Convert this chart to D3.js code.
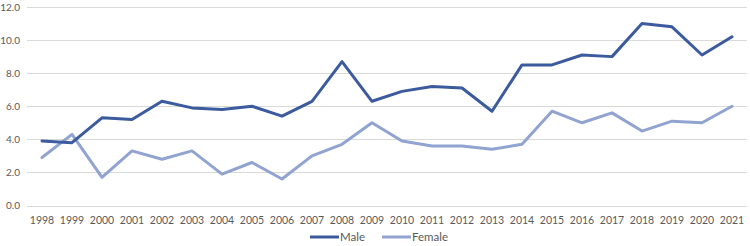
<!DOCTYPE html>
<html>
<head>
<meta charset="utf-8">
<script src="https://cdn.jsdelivr.net/npm/d3@7"></script>
<style>
  body { margin: 0; background: #fff; }
  svg text { font-family: Lato, "Noto Sans", sans-serif; fill: #595959; }
</style>
</head>
<body>
<svg id="chart" width="750" height="246"></svg>
<script>
const years = ["1998","1999","2000","2001","2002","2003","2004","2005","2006","2007","2008","2009",
               "2010","2011","2012","2013","2014","2015","2016","2017","2018","2019","2020","2021"];
const male = [3.9, 3.8, 5.3, 5.2, 6.3, 5.9, 5.8, 6.0, 5.4, 6.3, 8.7, 6.3,
              6.9, 7.2, 7.1, 5.7, 8.5, 8.5, 9.1, 9.0, 11.0, 10.8, 9.1, 10.2];
const female = [2.9, 4.3, 1.7, 3.3, 2.8, 3.3, 1.9, 2.6, 1.6, 3.0, 3.7, 5.0,
                3.9, 3.6, 3.6, 3.4, 3.7, 5.7, 5.0, 5.6, 4.5, 5.1, 5.0, 6.0];
const yTicks = [0, 2, 4, 6, 8, 10, 12];

const series = [
  { name: "Male", values: male, color: "#3b5b9e" },
  { name: "Female", values: female, color: "#90a3d1" }
];

const svg = d3.select("#chart");
const plotLeft = 27, plotRight = 747, plotTop = 7, plotBottom = 205.5;

const x = d3.scaleBand().domain(years).range([plotLeft, plotRight]);
const y = d3.scaleLinear().domain([0, 12]).range([plotBottom, plotTop]);

// gridlines
svg.append("g").selectAll("line").data(yTicks).join("line")
  .attr("x1", plotLeft).attr("x2", plotRight)
  .attr("y1", d => Math.round(y(d)) + 0.5).attr("y2", d => Math.round(y(d)) + 0.5)
  .attr("stroke", "#d9d9d9").attr("stroke-width", 1);

// y labels
svg.append("g").selectAll("text").data(yTicks).join("text")
  .attr("x", 20).attr("y", d => y(d) + 3.5)
  .attr("text-anchor", "end").attr("font-size", 10)
  .text(d => d.toFixed(1));

// x labels
svg.append("g").selectAll("text").data(years).join("text")
  .attr("x", d => x(d) + x.bandwidth() / 2).attr("y", 223.5)
  .attr("text-anchor", "middle").attr("font-size", 10.5)
  .text(d => d);

const line = d3.line()
  .x((d, i) => x(years[i]) + x.bandwidth() / 2)
  .y(d => y(d));

svg.append("g").selectAll("path").data(series.slice().reverse()).join("path")
  .attr("d", d => line(d.values))
  .attr("fill", "none")
  .attr("stroke", d => d.color)
  .attr("stroke-width", 3)
  .attr("stroke-linejoin", "round")
  .attr("stroke-linecap", "round");

// legend
const legendX = [310, 382];
const lg = svg.append("g").selectAll("g").data(series).join("g")
  .attr("transform", (d, i) => `translate(${legendX[i]},237)`);
lg.append("line").attr("x1", 0).attr("x2", 29)
  .attr("stroke", d => d.color).attr("stroke-width", 3);
lg.append("text").attr("x", 30).attr("y", 4).attr("font-size", 11.5).text(d => d.name);
</script>
</body>
</html>
